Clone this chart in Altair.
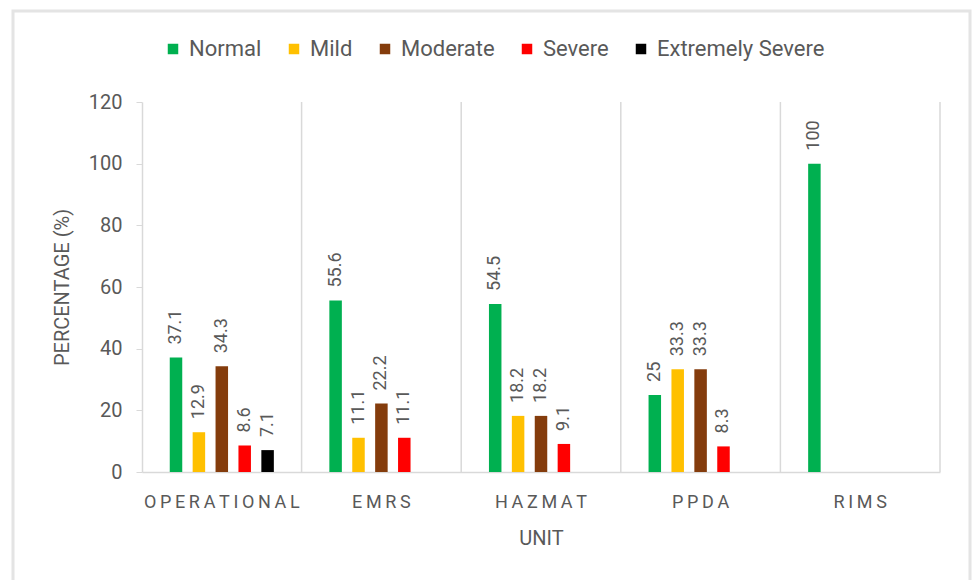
import altair as alt
import pandas as pd

# Depression severity by unit (percentage of staff)
units = ["OPERATIONAL", "EMRS", "HAZMAT", "PPDA", "RIMS"]
levels = ["Normal", "Mild", "Moderate", "Severe", "Extremely Severe"]
level_colors = ["#00B050", "#FFC000", "#843C0C", "#FF0000", "#000000"]

normal = [37.1, 55.6, 54.5, 25, 100]
mild = [12.9, 11.1, 18.2, 33.3, None]
moderate = [34.3, 22.2, 18.2, 33.3, None]
severe = [8.6, 11.1, 9.1, 8.3, None]
extremely_severe = [7.1, None, None, None, None]

series = [normal, mild, moderate, severe, extremely_severe]
rows = []
for level, vals in zip(levels, series):
    for unit, v in zip(units, vals):
        if v is not None:
            rows.append({"unit": unit, "level": level, "value": v})
df = pd.DataFrame(rows)
units_df = pd.DataFrame({"unit": units})

FONT = "Roboto"
GRAY = "#595959"
LINE = "#d9d9d9"

x_enc = alt.X(
    "unit:N",
    sort=units,
    scale=alt.Scale(domain=units, paddingInner=0, paddingOuter=0),
    axis=alt.Axis(
        title="UNIT",
        labelAngle=0,
        labelAlign="center",
        labelExpr="join(split(datum.label, ''), '\u2009')",
        labelFont=FONT,
        labelFontSize=18,
        labelColor=GRAY,
        labelPadding=30,
        ticks=False,
        domainColor=LINE,
        domainWidth=1.5,
        titleFont=FONT,
        titleFontSize=20,
        titleFontWeight="normal",
        titleColor=GRAY,
        titlePadding=17,
        grid=False,
    ),
)

y_scale = alt.Scale(domain=[0, 120], nice=False)
y_enc = alt.Y(
    "value:Q",
    scale=y_scale,
    axis=alt.Axis(
        title="PERCENTAGE (%)",
        values=list(range(0, 121, 20)),
        grid=False,
        labelFont=FONT,
        labelFontSize=20,
        labelColor=GRAY,
        labelPadding=14,
        tickColor=LINE,
        tickSize=6,
        domainColor=LINE,
        domainWidth=1.5,
        titleFont=FONT,
        titleFontSize=20,
        titleFontWeight="normal",
        titleColor=GRAY,
        titlePadding=16,
    ),
)

offset_enc = alt.XOffset(
    "level:N",
    sort=levels,
    scale=alt.Scale(domain=levels, paddingInner=0.03, paddingOuter=1),
)

color_enc = alt.Color(
    "level:N",
    sort=levels,
    scale=alt.Scale(domain=levels, range=level_colors),
    legend=alt.Legend(
        title=None,
        orient="none",
        direction="horizontal",
        legendX=20,
        legendY=-64,
        symbolType="square",
        symbolSize=110,
        symbolStrokeWidth=0,
        labelFont=FONT,
        labelFontSize=22,
        labelColor=GRAY,
        labelOffset=5,
        labelLimit=300,
        columnPadding=21,
    ),
)

separators = alt.Chart(units_df).mark_rule(color=LINE, strokeWidth=1.5).encode(
    x=alt.X("unit:N", sort=units, bandPosition=1),
    y=alt.datum(0, scale=y_scale),
    y2=alt.datum(120),
)

bars = alt.Chart(df).mark_bar(size=12.5).encode(
    x=x_enc,
    xOffset=offset_enc,
    y=y_enc,
    color=color_enc,
)

labels = alt.Chart(df).mark_text(
    angle=270,
    align="left",
    baseline="middle",
    dx=13,
    font=FONT,
    fontSize=18,
    color=GRAY,
).encode(
    x=alt.X("unit:N", sort=units),
    xOffset=offset_enc,
    y=alt.Y("value:Q", scale=y_scale),
    text=alt.Text("value:Q"),
)

# light frame around the whole chart area
frame = alt.Chart(alt.Data(values=[{}])).mark_rect(
    fill=None, stroke="#e4e4e4", strokeWidth=3, clip=False
).encode(
    x=alt.value(-129),
    x2=alt.value(828),
    y=alt.value(-91),
    y2=alt.value(500),
)

chart = (
    alt.layer(frame, separators, bars, labels)
    .properties(
        width=798,
        height=370,
        autosize=alt.AutoSizeParams(type="none"),
        padding={"left": 142, "top": 102, "right": 36, "bottom": 108},
        background="white",
    )
    .configure_view(stroke=None)
)

chart.save("out.html", embed_options={"renderer": "svg", "actions": False})
